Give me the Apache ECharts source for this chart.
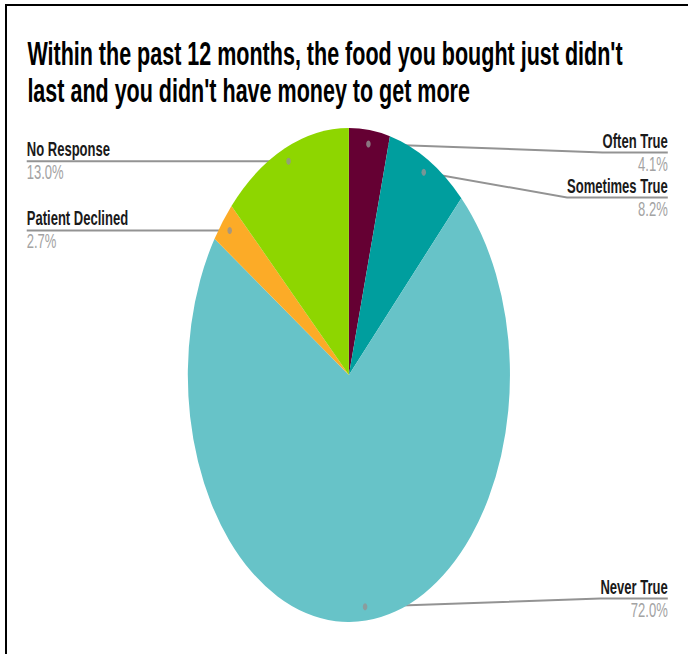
<!DOCTYPE html>
<html>
<head>
<meta charset="utf-8">
<script src="https://cdn.jsdelivr.net/npm/echarts@6/dist/echarts.min.js"></script>
<style>
  html, body { margin: 0; padding: 0; background: #fff; overflow: hidden; width: 688px; height: 654px; }
  #frame { position: absolute; left: 5px; top: 4px; width: 690px; height: 660px; border-top: 2px solid #000; border-left: 2px solid #000; }
  #chart { position: absolute; left: 0; top: 0; width: 1055px; height: 654px; transform: scaleX(0.652133); transform-origin: 0 0; }
</style>
</head>
<body>
<div id="frame"></div>
<div id="chart"></div>
<script>
// ---- data ----
var titleText = "Within the past 12 months, the food you bought just didn't\nlast and you didn't have money to get more";
var categories = ['Often True', 'Sometimes True', 'Never True', 'Patient Declined', 'No Response'];
var values = [4.1, 8.2, 72.0, 2.7, 13.0];
var colors = ['#650033', '#009e9e', '#67c3c8', '#fcab27', '#8ed600'];

// ---- layout (native, pre-squeeze coordinates) ----
var CX = 535, CY = 375, R = 247, DOT = 233;
var VIEW_LEFT = 41, VIEW_TOP = 130, VIEW_W = 983, VIEW_H = 491;

var pieData = categories.map(function (c, i) {
  return { name: c, value: values[i], itemStyle: { color: colors[i] } };
});

// dot markers at the start of each leader line (angle = cumulative midpoint of each slice)
var dotData = [];
var cum = 0;
values.forEach(function (v) {
  dotData.push([DOT / R, cum + v / 2]);
  cum += v;
});

var chart = echarts.init(document.getElementById('chart'), null, { renderer: 'svg' });
chart.setOption({
  backgroundColor: 'transparent',
  animation: false,
  title: {
    text: titleText,
    left: 42,
    top: 35,
    padding: 0,
    textStyle: {
      fontFamily: 'Liberation Sans',
      fontWeight: 'bold',
      fontSize: 33,
      lineHeight: 37,
      color: '#000'
    }
  },
  polar: { center: [CX, CY], radius: R },
  angleAxis: { type: 'value', min: 0, max: cum, startAngle: 90, clockwise: true, show: false },
  radiusAxis: { type: 'value', min: 0, max: 1, show: false },
  series: [
    {
      type: 'pie',
      left: VIEW_LEFT, top: VIEW_TOP, width: VIEW_W, height: VIEW_H,
      center: [CX - VIEW_LEFT, CY - VIEW_TOP],
      radius: R,
      startAngle: 90,
      clockwise: true,
      silent: true,
      avoidLabelOverlap: true,
      itemStyle: { borderWidth: 0 },
      label: {
        show: true,
        position: 'outside',
        alignTo: 'edge',
        edgeDistance: 0,
        distanceToLabelLine: 0,
        width: 234,
        padding: 0,
        formatter: function (p) {
          return '{n|' + p.name + '}\n{v|' + p.value.toFixed(1) + '%}';
        },
        rich: {
          n: { fontFamily: 'Liberation Sans', fontWeight: 'bold', fontSize: 20, lineHeight: 23, color: '#1a1a1a' },
          v: { fontFamily: 'Liberation Sans', fontSize: 20, lineHeight: 23, color: '#a3a3a3' }
        }
      },
      labelLine: {
        show: true,
        length: DOT - R,
        length2: 1,
        smooth: false,
        lineStyle: { color: '#939393', width: 2 }
      },
      labelLayout: function (p) {
        var pts = p.labelLinePoints, r = p.labelRect;
        if (!pts || !r) return {};
        var k = DOT / R;
        var p0 = [CX + (pts[0][0] - CX) * k, CY + (pts[0][1] - CY) * k];
        var right = pts[0][0] > CX;
        var y = r.y + r.height / 2;
        var near = right ? r.x : r.x + r.width;
        var far = right ? r.x + r.width : r.x;
        return { labelLinePoints: [p0, [near, y], [far, y]] };
      },
      data: pieData
    },
    {
      type: 'scatter',
      coordinateSystem: 'polar',
      silent: true,
      symbol: 'circle',
      symbolSize: 7,
      itemStyle: { color: '#939393' },
      z: 5,
      data: dotData
    }
  ]
});
</script>
</body>
</html>
